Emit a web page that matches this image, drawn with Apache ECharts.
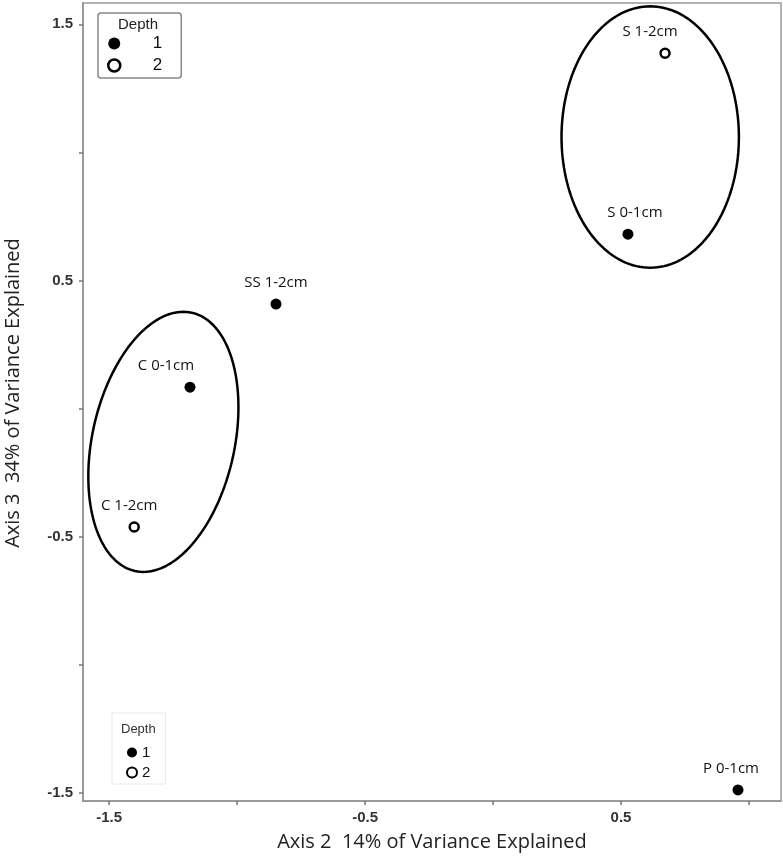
<!DOCTYPE html>
<html>
<head>
<meta charset="utf-8">
<script src="https://cdn.jsdelivr.net/npm/echarts@6/dist/echarts.min.js"></script>
<style>html,body{margin:0;padding:0;background:#fff;}#c{width:783px;height:858px;}</style>
</head>
<body>
<div id="c"></div>
<script>
// ---- data ----
const sampleNames = ['S 1-2cm', 'S 0-1cm', 'SS 1-2cm', 'C 0-1cm', 'C 1-2cm', 'P 0-1cm'];
const axis2Scores = [0.672, 0.527, -0.848, -1.184, -1.402, 0.957];
const axis3Scores = [1.387, 0.681, 0.408, 0.084, -0.462, -1.488];
const depthGroup = ['2', '1', '1', '1', '2', '1'];
const depthLevels = ['1', '2'];
const xTickValues = [-1.5, -1.0, -0.5, 0, 0.5, 1.0];
const xLabelValues = [-1.5, -0.5, 0.5];
const yTickValues = [-1.5, -1.0, -0.5, 0, 0.5, 1.0, 1.5];
const yLabelValues = [-1.5, -0.5, 0.5, 1.5];
// ellipse parameters (data units): centre x, centre y, semi-axis 1, semi-axis 2, rotation (deg)
const ellipseS = [0.614, 1.060, 0.3465, 0.510, 0];
const ellipseC = [-1.288, -0.1295, 0.516, 0.278, 77.6];

// ---- styling (label nudges in px) ----
const labelDx = [-15, 7, 0, -24, -5, -7];

function ellipsePoints(p) {
  const [cx, cy, a, b, deg] = p;
  const th = deg * Math.PI / 180;
  const out = [];
  const n = 160;
  for (let i = 0; i <= n; i++) {
    const t = 2 * Math.PI * i / n;
    out.push([
      cx + a * Math.cos(th) * Math.cos(t) - b * Math.sin(th) * Math.sin(t),
      cy + a * Math.sin(th) * Math.cos(t) + b * Math.cos(th) * Math.sin(t)
    ]);
  }
  return out;
}

function groupData(level) {
  const d = [];
  sampleNames.forEach((n, i) => {
    if (depthGroup[i] === level) {
      d.push({ name: n, value: [axis2Scores[i], axis3Scores[i]], label: { offset: [labelDx[i], 0] } });
    }
  });
  return d;
}

const labelStyle = {
  show: true, position: 'top', distance: 8,
  formatter: '{b}', color: '#111', fontFamily: 'Open Sans', fontSize: 15
};

const chart = echarts.init(document.getElementById('c'), null, { renderer: 'canvas' });
chart.setOption({
  animation: false,
  backgroundColor: '#fff',
  title: [
    { text: 'Depth', left: 118, top: 17, padding: 0,
      textStyle: { fontFamily: 'Liberation Sans', fontSize: 15, fontWeight: 'normal', color: '#222' } },
    { text: 'Depth', left: 121, top: 723, padding: 0,
      textStyle: { fontFamily: 'Liberation Sans', fontSize: 13, fontWeight: 'normal', color: '#333' } }
  ],
  grid: { left: 83, right: 2, top: 3, bottom: 57, show: true, borderColor: '#999', borderWidth: 1.5,
    containLabel: false, outerBoundsMode: 'none' },
  legend: [
    {
      data: [
        { name: '1', icon: 'circle', itemStyle: { color: '#000', borderWidth: 0, opacity: 1 } },
        { name: '2', icon: 'circle', itemStyle: { color: '#fff', borderColor: '#000', borderWidth: 2.5, opacity: 1 } }
      ],
      orient: 'vertical', left: 98, top: 13,
      padding: [22, 19, 4, 9],
      borderColor: '#888', borderWidth: 1.5, borderRadius: 3,
      itemWidth: 12, itemHeight: 12, itemGap: 5,
      formatter: '{a|{name}}',
      textStyle: { rich: { a: { width: 37, align: 'right', fontFamily: 'Liberation Sans', fontSize: 17, lineHeight: 16, color: '#111' } } },
      selectedMode: false
    },
    {
      data: [
        { name: '1', icon: 'circle', itemStyle: { color: '#000', borderWidth: 0, opacity: 1 } },
        { name: '2', icon: 'circle', itemStyle: { color: '#fff', borderColor: '#000', borderWidth: 2, opacity: 1 } }
      ],
      orient: 'vertical', left: 112, top: 713,
      padding: [32, 15, 4, 14],
      borderColor: '#e8e8e8', borderWidth: 1,
      itemWidth: 10, itemHeight: 10, itemGap: 5,
      textStyle: { fontFamily: 'Liberation Sans', fontSize: 15, lineHeight: 14, color: '#111' },
      selectedMode: false
    }
  ],
  xAxis: {
    type: 'value', min: -1.602, max: 1.125,
    name: 'Axis 2  14% of Variance Explained', nameLocation: 'middle', nameGap: 31,
    nameTextStyle: { fontFamily: 'Open Sans', fontSize: 20, color: '#222' },
    axisLine: { show: true, onZero: false, lineStyle: { color: '#999', width: 2 } },
    axisTick: { show: true, length: 4, customValues: xTickValues, lineStyle: { color: '#777', width: 1.5 } },
    axisLabel: { customValues: xLabelValues, margin: 9, fontFamily: 'Liberation Sans', fontSize: 15, fontWeight: 'bold', color: '#333',
      formatter: v => v.toFixed(1) },
    splitLine: { show: false }
  },
  yAxis: {
    type: 'value', min: -1.531, max: 1.583,
    name: 'Axis 3  34% of Variance Explained', nameLocation: 'middle', nameGap: 60,
    nameTextStyle: { fontFamily: 'Open Sans', fontSize: 20, color: '#222', padding: [0, 0, 0, 18] },
    axisLine: { show: true, onZero: false, lineStyle: { color: '#999', width: 2 } },
    axisTick: { show: true, length: 4, customValues: yTickValues, lineStyle: { color: '#777', width: 1.5 } },
    axisLabel: { customValues: yLabelValues, margin: 10, fontFamily: 'Liberation Sans', fontSize: 15, fontWeight: 'bold', color: '#333',
      formatter: v => v.toFixed(1) },
    splitLine: { show: false }
  },
  series: [
    {
      name: 'ellipseS', type: 'line', data: ellipsePoints(ellipseS), showSymbol: false, symbol: 'none',
      lineStyle: { color: '#000', width: 2.5 }, silent: true, z: 1
    },
    {
      name: 'ellipseC', type: 'line', data: ellipsePoints(ellipseC), showSymbol: false, symbol: 'none',
      lineStyle: { color: '#000', width: 2.5 }, silent: true, z: 1
    },
    {
      name: depthLevels[0], type: 'scatter', symbol: 'circle', symbolSize: 11,
      itemStyle: { color: '#000', opacity: 1 }, label: labelStyle, data: groupData(depthLevels[0]), z: 3
    },
    {
      name: depthLevels[1], type: 'scatter', symbol: 'circle', symbolSize: 9,
      itemStyle: { color: '#fff', borderColor: '#000', borderWidth: 2.5, opacity: 1 }, label: labelStyle, data: groupData(depthLevels[1]), z: 3
    }
  ]
});
</script>
</body>
</html>
